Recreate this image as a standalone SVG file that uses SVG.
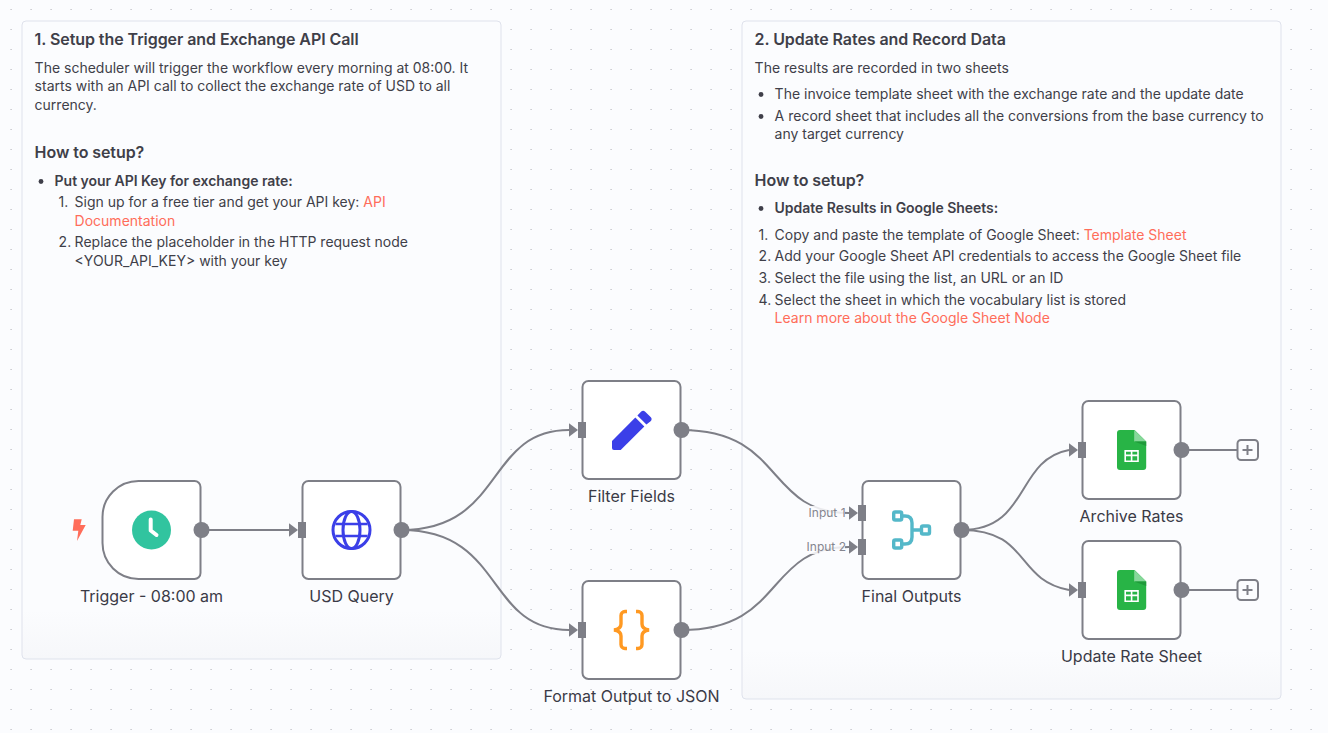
<svg xmlns="http://www.w3.org/2000/svg" width="1328" height="733" viewBox="0 0 1328 733">
<defs>
<pattern id="dots" width="20" height="20" patternUnits="userSpaceOnUse"><rect x="10.4" y="9" width="1.4" height="1" fill="#c4c5ca"/></pattern>
<linearGradient id="stk1" gradientUnits="userSpaceOnUse" x1="0" y1="610" x2="0" y2="659"><stop offset="0" stop-color="#fbfcfe"/><stop offset="1" stop-color="#f6f7fa"/></linearGradient>
<linearGradient id="stk2" gradientUnits="userSpaceOnUse" x1="0" y1="650" x2="0" y2="699"><stop offset="0" stop-color="#fbfcfe"/><stop offset="1" stop-color="#f6f7fa"/></linearGradient>
<marker id="arrow" markerUnits="userSpaceOnUse" markerWidth="10" markerHeight="14" refX="0" refY="7" orient="0"><path d="M0 .3L9 7L0 13.7Z" fill="#7e7f87"/></marker>
<g id="sheet">
<path d="M-14.6 -20h17.6L14.6 -8.5V17a3 3 0 0 1-3 3h-23.2a3 3 0 0 1-3-3V-17a3 3 0 0 1 3-3Z" fill="#28b446"/>
<path d="M2.6 -20L14.6 -8.5H2.6Z" fill="#87d89a"/>
<path d="M2.6 -8.5H14.6V-4Z" fill="#1f9a3a"/>
<path d="M-7.2 0H7.2V12H-7.2ZM-5.6 1.8V4.6H-.8V1.8ZM.8 1.8V4.6H5.6V1.8ZM-5.6 6.2V10.4H-.8V6.2ZM.8 6.2V10.4H5.6V6.2Z" fill="#fff" fill-rule="evenodd"/>
</g>
</defs>
<style>
text{font-family:Inter,"Liberation Sans",sans-serif;fill:#3f3f49}
.sticky{stroke:#dfe2ec;stroke-width:1}
.h{font-size:16px;font-weight:600;letter-spacing:-.07px}
.b{font-size:14px}
.s{font-weight:600;letter-spacing:-.03px}
.l{fill:#ff6d5a}
.nb{fill:#fff;stroke:#7e7f87;stroke-width:2}
.nl{font-size:16px;text-anchor:middle;fill:#3a3a46}
.c{fill:none;stroke:#7e7f87;stroke-width:2}
.in{fill:#7e7f87}
.il{font-size:12px;fill:#85868f}
.bl{fill:#3f3f49}
</style>
<rect width="1328" height="733" fill="#fbfcfe"/>
<rect width="1328" height="733" fill="url(#dots)"/>

<g id="sticky-1">
<rect class="sticky" x="22" y="21" width="479" height="638" rx="4" fill="url(#stk1)"/>
<text class="h" x="34.6" y="45">1. Setup the Trigger and Exchange API Call</text>
<text class="b" x="34.6" y="73">The scheduler will trigger the workflow every morning at 08:00. It</text>
<text class="b" x="34.6" y="91">starts with an API call to collect the exchange rate of USD to all</text>
<text class="b" x="34.6" y="110">currency.</text>
<text class="h" x="34.6" y="158">How to setup?</text>
<circle class="bl" cx="41" cy="181.5" r="2.4"/>
<text class="b s" x="54.6" y="186">Put your API Key for exchange rate:</text>
<text class="b" x="58.6" y="207">1.</text>
<text class="b" x="74.6" y="207">Sign up for a free tier and get your API key: <tspan class="l">API</tspan></text>
<text class="b l" x="74.6" y="226">Documentation</text>
<text class="b" x="58.6" y="247">2.</text>
<text class="b" x="74.6" y="247">Replace the placeholder in the HTTP request node</text>
<text class="b" x="74.6" y="266">&lt;YOUR_API_KEY&gt; with your key</text>
</g>

<g id="sticky-2">
<rect class="sticky" x="742" y="21" width="539" height="678" rx="4" fill="url(#stk2)"/>
<text class="h" x="754.6" y="45">2. Update Rates and Record Data</text>
<text class="b" x="754.6" y="73">The results are recorded in two sheets</text>
<circle class="bl" cx="761" cy="94.5" r="2.4"/>
<text class="b" x="774.6" y="99">The invoice template sheet with the exchange rate and the update date</text>
<circle class="bl" cx="761" cy="116.5" r="2.4"/>
<text class="b" x="774.6" y="121">A record sheet that includes all the conversions from the base currency to</text>
<text class="b" x="774.6" y="139">any target currency</text>
<text class="h" x="754.6" y="186">How to setup?</text>
<circle class="bl" cx="761" cy="208.5" r="2.4"/>
<text class="b s" x="774.6" y="213">Update Results in Google Sheets:</text>
<text class="b" x="758.6" y="240">1.</text>
<text class="b" x="774.6" y="240">Copy and paste the template of Google Sheet: <tspan class="l">Template Sheet</tspan></text>
<text class="b" x="758.6" y="261">2.</text>
<text class="b" x="774.6" y="261">Add your Google Sheet API credentials to access the Google Sheet file</text>
<text class="b" x="758.6" y="283">3.</text>
<text class="b" x="774.6" y="283">Select the file using the list, an URL or an ID</text>
<text class="b" x="758.6" y="305">4.</text>
<text class="b" x="774.6" y="305">Select the sheet in which the vocabulary list is stored</text>
<text class="b l" x="774.6" y="323">Learn more about the Google Sheet Node</text>
</g>

<g id="connectors">
<path class="c" marker-end="url(#arrow)" d="M201.5 530H289"/>
<path class="c" marker-end="url(#arrow)" d="M401.5 530C505 530 485 430 569 430"/>
<path class="c" marker-end="url(#arrow)" d="M401.5 530C505 530 485 630 569 630"/>
<path class="c" marker-end="url(#arrow)" d="M681.5 430C785 430 765 513 849 513"/>
<path class="c" marker-end="url(#arrow)" d="M681.5 630C785 630 765 547 849 547"/>
<path class="c" marker-end="url(#arrow)" d="M961.5 530C1030 530 1015 460 1069 450"/>
<path class="c" marker-end="url(#arrow)" d="M961.5 530C1030 530 1015 580 1069 590"/>
<path class="c" d="M1181.5 450H1237"/>
<path class="c" d="M1181.5 590H1237"/>
</g>

<g id="trigger">
<path class="nb" d="M138.5 481H194.5a6 6 0 0 1 6 6V573a6 6 0 0 1-6 6H138.5A36 36 0 0 1 102.5 543V517A36 36 0 0 1 138.5 481Z"/>
<circle cx="151.5" cy="530" r="19.5" fill="#31c49f"/>
<path d="M150.7 519.5V530.5L156.5 535" fill="none" stroke="#fff" stroke-width="4" stroke-linecap="round" stroke-linejoin="round"/>
<path d="M74 519.3H81.7L80.3 525H85.7L77 541L78.3 530.7H72.7Z" fill="#ff6d5a"/>
<circle class="in" cx="201.5" cy="530" r="8"/>
<text class="nl" x="151.5" y="602">Trigger - 08:00 am</text>
</g>

<g id="usd-query">
<rect class="nb" x="302.5" y="481" width="98" height="98" rx="6"/>
<g fill="none" stroke="#3b3fe8" stroke-width="3">
<circle cx="351.5" cy="530" r="18.5"/>
<ellipse cx="351.5" cy="530" rx="8.5" ry="18.5"/>
<path d="M335.5 524H367.5M335.5 536H367.5" stroke-width="2.5"/>
</g>
<rect class="in" x="298" y="522" width="8" height="16"/>
<circle class="in" cx="401.5" cy="530" r="8"/>
<text class="nl" x="351.5" y="602">USD Query</text>
</g>

<g id="filter-fields">
<rect class="nb" x="582.5" y="381" width="98" height="98" rx="6"/>
<path d="M612 441L635.3 417.5L644.3 426.5L620.7 450H614a2 2 0 0 1-2-2Z" fill="#3b3fe8"/>
<path d="M637.4 415.4L641 411.8a3 3 0 0 1 4.2 0L650.6 417a3 3 0 0 1 0 4.2L646.4 424.4Z" fill="#3b3fe8"/>
<rect class="in" x="578" y="422" width="8" height="16"/>
<circle class="in" cx="681.5" cy="430" r="8"/>
<text class="nl" x="631.5" y="502">Filter Fields</text>
</g>

<g id="format-output">
<rect class="nb" x="582.5" y="581" width="98" height="98" rx="6"/>
<path d="M627 611.5H625a4 4 0 0 0-4 4V624q0 5-7 6q7 1 7 6V644.5a4 4 0 0 0 4 4H627M636 611.5H638a4 4 0 0 1 4 4V624q0 5 7 6q-7 1-7 6V644.5a4 4 0 0 1-4 4H636" fill="none" stroke="#ff9922" stroke-width="3.4"/>
<rect class="in" x="578" y="622" width="8" height="16"/>
<circle class="in" cx="681.5" cy="630" r="8"/>
<text class="nl" x="631.5" y="702">Format Output to JSON</text>
</g>

<g id="final-outputs">
<rect class="nb" x="862.5" y="481" width="98" height="98" rx="6"/>
<g fill="none" stroke="#54b8c9" stroke-width="3.4">
<rect x="893.7" y="512" width="8" height="8" rx="1.5"/>
<rect x="893.7" y="540" width="8" height="8" rx="1.5"/>
<rect x="921.5" y="526" width="8" height="8" rx="1.5"/>
<path d="M901.7 516H905q7 0 7 7V537q0 7-7 7H901.7M912 530H921.5"/>
</g>
<rect x="808" y="506" width="37" height="14" fill="#fbfcfe" opacity=".85"/>
<rect x="806" y="540" width="39" height="14" fill="#fbfcfe" opacity=".85"/>
<text class="il" x="808.6" y="517">Input 1</text>
<text class="il" x="806.6" y="551">Input 2</text>
<rect class="in" x="858" y="505" width="8" height="16"/>
<rect class="in" x="858" y="539" width="8" height="16"/>
<circle class="in" cx="961.5" cy="530" r="8"/>
<text class="nl" x="911.5" y="602">Final Outputs</text>
</g>

<g id="archive-rates">
<rect class="nb" x="1082.5" y="401" width="98" height="98" rx="6"/>
<use href="#sheet" x="1131.6" y="450"/>
<rect class="in" x="1078" y="442" width="8" height="16"/>
<circle class="in" cx="1181.5" cy="450" r="8"/>
<rect x="1237.5" y="440" width="20.5" height="20" rx="3.5" fill="#fbfcfe" stroke="#7e7f87" stroke-width="2"/>
<path d="M1247.5 445V455M1242.5 450H1252.5" stroke="#7e7f87" stroke-width="2"/>
<text class="nl" x="1131.5" y="522">Archive Rates</text>
</g>

<g id="update-rate-sheet">
<rect class="nb" x="1082.5" y="541" width="98" height="98" rx="6"/>
<use href="#sheet" x="1131.6" y="590"/>
<rect class="in" x="1078" y="582" width="8" height="16"/>
<circle class="in" cx="1181.5" cy="590" r="8"/>
<rect x="1237.5" y="580" width="20.5" height="20" rx="3.5" fill="#fbfcfe" stroke="#7e7f87" stroke-width="2"/>
<path d="M1247.5 585V595M1242.5 590H1252.5" stroke="#7e7f87" stroke-width="2"/>
<text class="nl" x="1131.5" y="662">Update Rate Sheet</text>
</g>
</svg>
